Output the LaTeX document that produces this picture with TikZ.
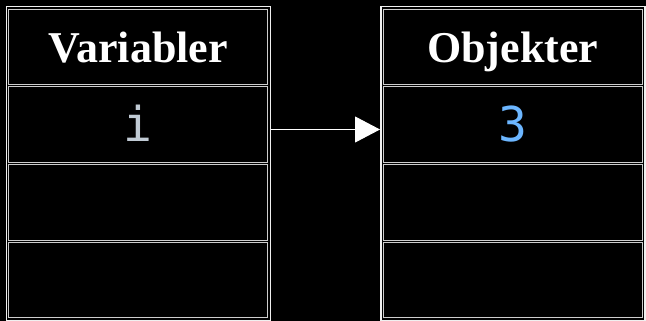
\documentclass[tikz,border=0pt]{standalone}
\usepackage{fontspec}
\setmainfont{Liberation Serif}
\newfontfamily\codefont{DejaVu Sans Mono}
\usetikzlibrary{arrows.meta,fit,calc}
\definecolor{outerline}{RGB}{240,240,240}
\definecolor{cellline}{RGB}{205,205,205}
\definecolor{varcol}{RGB}{192,202,212}
\definecolor{numcol}{RGB}{108,182,255}
\tikzset{
  cellbox/.style={draw=cellline, line width=1.1pt, rectangle, inner sep=0pt,
    minimum width=259pt, minimum height=75.5pt},
  headbox/.style={cellbox, font=\fontsize{44}{50}\selectfont\bfseries, text=white,
    text height=36pt, text depth=4pt},
  codebox/.style={cellbox, font=\codefont\fontsize{48}{54}\selectfont,
    text height=36pt, text depth=3.4pt},
  tablebox/.style={draw=outerline, line width=1.5pt, inner sep=2pt, rectangle},
  arr/.style={draw=white, line width=1pt, -{Triangle[length=25pt,width=26pt]}}
}
\begin{document}
\begin{tikzpicture}[x=1pt,y=-1pt]
\fill[black] (0,0) rectangle (646,321);
\useasboundingbox (0,0) rectangle (646,321);
% left table
\node[headbox] (l0) at (138.3,47) {Variabler};
\node[codebox, text=varcol] (l1) at (138.3,124.7) {i};
\node[cellbox] (l2) at (138.3,202.3) {};
\node[cellbox] (l3) at (138.3,280) {};
\node[tablebox, fit=(l0)(l3)] (L) {};
% right table
\node[headbox] (r0) at (512.8,47) {Objekter};
\node[codebox, text=numcol] (r1) at (512.8,124.7) {3};
\node[cellbox] (r2) at (512.8,202.3) {};
\node[cellbox] (r3) at (512.8,280) {};
\node[tablebox, fit=(r0)(r3)] (R) {};
% arrow
\coordinate (a1) at ($(L.east |- l1.center)+(0,4.8)$);
\coordinate (a2) at (R.west |- a1);
\draw[arr] (a1) -- (a2);
\end{tikzpicture}
\end{document}
